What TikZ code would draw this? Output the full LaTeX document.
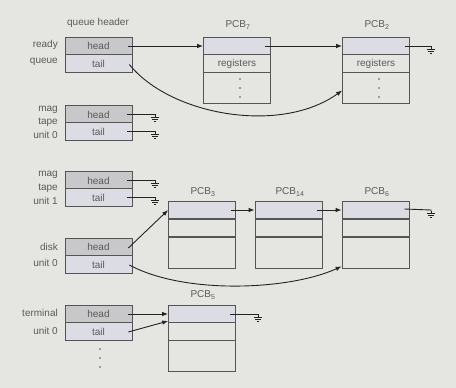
\documentclass[tikz,border=0pt]{standalone}
\usepackage{fontspec}
\setmainfont{Liberation Sans}
\usetikzlibrary{arrows.meta,calc}
\definecolor{bg}{RGB}{229,229,226}
\definecolor{headc}{RGB}{200,200,202}
\definecolor{tailc}{RGB}{220,220,228}
\definecolor{txt}{RGB}{90,90,90}
\definecolor{linec}{RGB}{85,85,85}
\definecolor{arrc}{RGB}{35,35,35}
\begin{document}
\begin{tikzpicture}[x=1pt,y=-1pt,
  cell/.style={draw=linec, line width=0.7pt, minimum width=67pt, inner sep=0pt, text=txt, font=\fontsize{10}{12}\selectfont},
  hcell/.style={cell, fill=headc, minimum height=17.5pt},
  tcell/.style={cell, fill=tailc, minimum height=17.5pt},
  pcbtop/.style={cell, fill=tailc, minimum height=17.5pt},
  pcbmid/.style={cell, minimum height=17.5pt},
  pcbbot/.style={cell, minimum height=31pt},
  lbl/.style={text=txt, font=\fontsize{10}{12}\selectfont, inner sep=0pt},
  rlbl/.style={lbl, anchor=east},
  arr/.style={draw=arrc, line width=0.9pt, -{Latex[length=6pt,width=4.5pt]}},
  wire/.style={draw=arrc, line width=0.9pt},
  gnd/.pic={\draw[arrc, line width=0.8pt] (0,0)--(0,2) (-4,2)--(4,2) (-2.7,4)--(2.7,4) (-1.3,6)--(1.3,6);},
  dot/.style={circle, fill=linec, inner sep=0pt, minimum size=1.8pt}
]
\useasboundingbox[fill=bg] (0,0) rectangle (456,388);

% header label
\node[lbl] (qh) at (98,23) {queue header};

% ready queue
\node[hcell] (rh) at (98.5,46) {head};
\node[tcell] (rt) at (98.5,63.5) {tail};
\node[rlbl] (l1) at (58,45) {ready};
\node[rlbl] (l2) at (58,62) {queue};

% mag tape unit 0
\node[hcell] (m0h) at (98.5,114.5) {head};
\node[tcell] (m0t) at (98.5,131.5) {tail};
\node[rlbl] (l3) at (58,110) {mag};
\node[rlbl] (l4) at (58,122) {tape};
\node[rlbl] (l5) at (58,135) {unit 0};

% mag tape unit 1
\node[hcell] (m1h) at (98.5,180.5) {head};
\node[tcell] (m1t) at (98.5,197.5) {tail};
\node[rlbl] (l6) at (58,175) {mag};
\node[rlbl] (l7) at (58,188) {tape};
\node[rlbl] (l8) at (58,201) {unit 1};

% disk unit 0
\node[hcell] (dh) at (98.5,247) {head};
\node[tcell] (dt) at (98.5,264.5) {tail};
\node[rlbl] (l9) at (58,247) {disk};
\node[rlbl] (l10) at (58,263) {unit 0};

% terminal unit 0
\node[hcell] (th) at (98.5,314) {head};
\node[tcell] (tt) at (98.5,331.5) {tail};
\node[rlbl] (l11) at (58,313) {terminal};
\node[rlbl] (l12) at (58,331) {unit 0};
\node[dot] (d1) at (100,349) {};
\node[dot] (d2) at (100,358) {};
\node[dot] (d3) at (100,367) {};

% PCB7
\node[pcbtop] (p7a) at (237,46) {};
\node[pcbmid] (p7b) at (237,63.5) {registers};
\node[pcbbot] (p7c) at (237,87.5) {};
\node[lbl] (p7l) at (238,25) {PCB\textsubscript{7}};
\node[dot] (p7d1) at (240,79) {};
\node[dot] (p7d2) at (240,88) {};
\node[dot] (p7d3) at (240,97) {};

% PCB2
\node[pcbtop] (p2a) at (376,46) {};
\node[pcbmid] (p2b) at (376,63.5) {registers};
\node[pcbbot] (p2c) at (376,87.5) {};
\node[lbl] (p2l) at (377,25) {PCB\textsubscript{2}};
\node[dot] (p2d1) at (379,79) {};
\node[dot] (p2d2) at (379,88) {};
\node[dot] (p2d3) at (379,97) {};

% PCB3, PCB14, PCB6
\node[pcbtop] (p3a) at (202,210) {};
\node[pcbmid] (p3b) at (202,228) {};
\node[pcbbot] (p3c) at (202,252.5) {};
\node[lbl] (p3l) at (203,192) {PCB\textsubscript{3}};

\node[pcbtop] (p14a) at (288.5,210) {};
\node[pcbmid] (p14b) at (288.5,228) {};
\node[pcbbot] (p14c) at (288.5,252.5) {};
\node[lbl] (p14l) at (290,192) {PCB\textsubscript{14}};

\node[pcbtop] (p6a) at (375.5,210) {};
\node[pcbmid] (p6b) at (375.5,228) {};
\node[pcbbot] (p6c) at (375.5,252.5) {};
\node[lbl] (p6l) at (377,192) {PCB\textsubscript{6}};

% PCB5
\node[pcbtop] (p5a) at (202,314) {};
\node[pcbmid] (p5b) at (202,331.5) {};
\node[pcbbot] (p5c) at (202,355.5) {};
\node[lbl] (p5l) at (203,295) {PCB\textsubscript{5}};

% ground coordinates
\coordinate (g1) at (155,115);
\coordinate (g2) at (155,132);
\coordinate (g3) at (155,181);
\coordinate (g4) at (155,198);
\coordinate (g5) at (431,47);
\coordinate (g6) at (431,211);
\coordinate (g7) at (258,315);
\pic at (g1) {gnd};
\pic at (g2) {gnd};
\pic at (g3) {gnd};
\pic at (g4) {gnd};
\pic at (g5) {gnd};
\pic at (g6) {gnd};
\pic at (g7) {gnd};

% connectors
\draw[arr] ($(rh.east)+(-4,0)$) -- (p7a.west);
\draw[arr] ($(rt.east)+(-3,1)$) .. controls (170,115) and (280,135) .. ($(p2c.west)+(0,3)$);
\draw[arr] ($(p7a.east)+(-6,0)$) -- (p2a.west);
\draw[wire] ($(p2a.east)+(-5,0)$) -- (g5 |- p2a.east) -- (g5);

\draw[wire] ($(m0h.east)+(-5,0)$) -- (g1 |- m0h.east) -- (g1);
\draw[wire] ($(m0t.east)+(-5,0)$) -- (g2 |- m0t.east) -- (g2);
\draw[wire] ($(m1h.east)+(-5,0)$) -- (g3 |- m1h.east) -- (g3);
\draw[wire] ($(m1t.east)+(-5,0)$) -- (g4 |- m1t.east) -- (g4);

\draw[arr] ($(dh.east)+(-4,1)$) -- (p3a.west);
\draw[arr] ($(dt.east)+(-3,0.5)$) .. controls (185,295) and (290,290) .. ($(p6c.south west)+(0,-2)$);
\draw[arr] ($(p3a.east)+(-5,0)$) -- (p14a.west);
\draw[arr] ($(p14a.east)+(-5,0)$) -- (p6a.west);
\draw[wire] ($(p6a.east)+(-5,-1)$) -- (g6 |- p6a.east) -- (g6);

\draw[arr] ($(th.east)+(-4,0)$) -- (p5a.west);
\draw[arr] ($(tt.east)+(-4,0.5)$) -- ($(p5a.west)+(0,7)$);
\draw[wire] ($(p5a.east)+(-6,0)$) -- (g7 |- p5a.east) -- (g7);
\end{tikzpicture}
\end{document}
